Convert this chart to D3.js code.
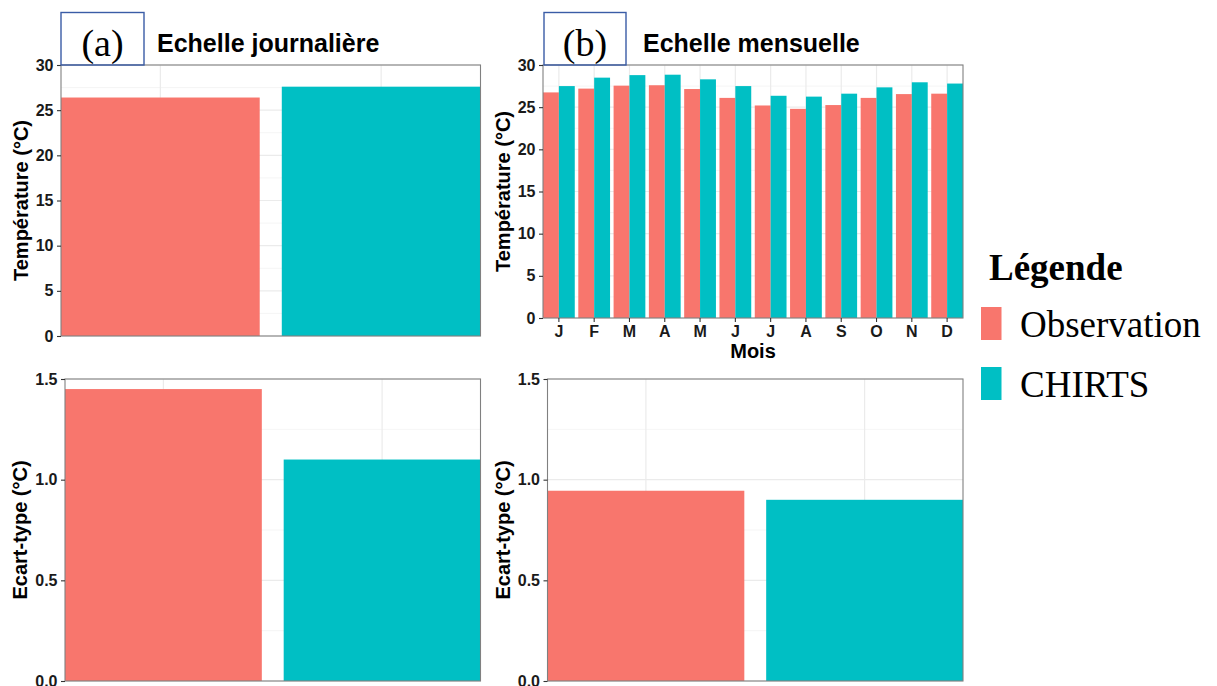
<!DOCTYPE html>
<html>
<head>
<meta charset="utf-8">
<script src="https://cdn.jsdelivr.net/npm/d3@7"></script>
<style>
  html, body { margin: 0; padding: 0; background: #fff; }
  svg { display: block; }
  .tick text { font-family: "Liberation Sans", Arial, sans-serif; font-weight: bold; font-size: 16px; fill: #1a1a1a; }
</style>
</head>
<body>
<svg id="chart" width="1217" height="686"></svg>
<script>
// ---------------- data ----------------
const series = ["Observation", "CHIRTS"];
const colors = ["#F8766D", "#00BFC4"];
const months = ["J", "F", "M", "A", "M", "J", "J", "A", "S", "O", "N", "D"];
const monthKeys = months.map((m, i) => m + i);

const dailyMean = [26.4, 27.6];                // (a) Echelle journalière
const obsMonthly = [26.75, 27.2, 27.55, 27.6, 27.15, 26.1, 25.2, 24.8, 25.25, 26.1, 26.55, 26.6];
const chirtsMonthly = [27.5, 28.5, 28.8, 28.85, 28.3, 27.5, 26.35, 26.25, 26.6, 27.35, 27.95, 27.8];
const dailySD = [1.45, 1.10];
const monthlySD = [0.945, 0.90];

const tempTicks = [0, 5, 10, 15, 20, 25, 30];
const sdTicks = [0, 0.5, 1.0, 1.5];

// ---------------- drawing ----------------
const svg = d3.select("#chart");
const sans = "'Liberation Sans', Arial, sans-serif";
const serif = "'Liberation Serif', 'Times New Roman', serif";

function panel(cfg) {
  const g = svg.append("g");
  const { x0, x1, y0, y1, ymax, ticks, fmt } = cfg;
  const y = d3.scaleLinear().domain([0, ymax]).range([y1, y0]);

  // background grid
  const minor = d3.range(0, ticks.length - 1).map(i => (ticks[i] + ticks[i + 1]) / 2);
  g.selectAll(".minor").data(minor).join("line")
    .attr("x1", x0).attr("x2", x1).attr("y1", d => y(d)).attr("y2", d => y(d))
    .attr("stroke", "#f2f2f2").attr("stroke-width", 0.8);
  g.selectAll(".major").data(ticks).join("line")
    .attr("x1", x0).attr("x2", x1).attr("y1", d => y(d)).attr("y2", d => y(d))
    .attr("stroke", "#ebebeb").attr("stroke-width", 1.2);

  let x;
  if (cfg.grouped) {
    x = d3.scaleBand().domain(monthKeys).range([x0, x1]).paddingInner(0.1).paddingOuter(0);
    const xs = d3.scaleBand().domain(series).range([0, x.bandwidth()]);
    g.selectAll(".vg").data(monthKeys).join("line")
      .attr("x1", d => x(d) + x.bandwidth() / 2).attr("x2", d => x(d) + x.bandwidth() / 2)
      .attr("y1", y0).attr("y2", y1).attr("stroke", "#ebebeb").attr("stroke-width", 1.2);
    const rows = [];
    monthKeys.forEach((k, i) => {
      rows.push({ k, s: series[0], v: cfg.values[0][i], c: colors[0] });
      rows.push({ k, s: series[1], v: cfg.values[1][i], c: colors[1] });
    });
    g.selectAll(".bar").data(rows).join("rect")
      .attr("x", d => x(d.k) + xs(d.s)).attr("width", xs.bandwidth())
      .attr("y", d => y(d.v)).attr("height", d => y(0) - y(d.v))
      .attr("fill", d => d.c);
  } else {
    x = d3.scaleBand().domain(series).range([x0, x1]).paddingInner(0.1).paddingOuter(0);
    g.selectAll(".vg").data(series).join("line")
      .attr("x1", d => x(d) + x.bandwidth() / 2).attr("x2", d => x(d) + x.bandwidth() / 2)
      .attr("y1", y0).attr("y2", y1).attr("stroke", "#ebebeb").attr("stroke-width", 1.2);
    g.selectAll(".bar").data(series).join("rect")
      .attr("x", d => x(d)).attr("width", x.bandwidth())
      .attr("y", (d, i) => y(cfg.values[i])).attr("height", (d, i) => y(0) - y(cfg.values[i]))
      .attr("fill", (d, i) => colors[i]);
  }

  // panel border
  g.append("rect").attr("x", x0).attr("y", y0).attr("width", x1 - x0).attr("height", y1 - y0)
    .attr("fill", "none").attr("stroke", "#808080").attr("stroke-width", 1.1);

  // y axis
  const ya = g.append("g").attr("transform", `translate(${x0},0)`)
    .call(d3.axisLeft(y).tickValues(ticks).tickFormat(fmt).tickSize(4).tickPadding(3.5));
  ya.select(".domain").remove();
  ya.selectAll(".tick line").attr("stroke", "#333").attr("stroke-width", 1.1);

  if (cfg.grouped) {
    const xa = g.append("g").attr("transform", `translate(0,${y1})`)
      .call(d3.axisBottom(x).tickFormat(d => d.replace(/\d+$/, "")).tickSize(4).tickPadding(3));
    xa.select(".domain").remove();
    xa.selectAll(".tick line").attr("stroke", "#333").attr("stroke-width", 1.1);
    xa.selectAll(".tick text").attr("dy", "0.72em");
    g.append("text").attr("x", (x0 + x1) / 2).attr("y", 358).attr("text-anchor", "middle")
      .attr("font-family", sans).attr("font-weight", "bold").attr("font-size", 20).attr("fill", "#000")
      .text(cfg.xlabel);
  }

  // y label
  g.append("text")
    .attr("transform", `translate(${cfg.ylabX},${(y0 + y1) / 2}) rotate(-90)`)
    .attr("text-anchor", "middle")
    .attr("font-family", sans).attr("font-weight", "bold").attr("font-size", 20).attr("fill", "#000")
    .text(cfg.ylabel);

  if (cfg.tag) {
    svg.append("text").attr("x", cfg.titleX).attr("y", 52)
      .attr("font-family", sans).attr("font-weight", "bold").attr("font-size", 25).attr("fill", "#000")
      .text(cfg.title);
    svg.append("rect").attr("x", cfg.tagBox[0]).attr("y", 12.5)
      .attr("width", cfg.tagBox[1] - cfg.tagBox[0]).attr("height", y0 - 12.5)
      .attr("fill", "none").attr("stroke", "#3a5ca6").attr("stroke-width", 1.4);
    svg.append("text").attr("x", (cfg.tagBox[0] + cfg.tagBox[1]) / 2).attr("y", 55.5)
      .attr("text-anchor", "middle")
      .attr("font-family", serif).attr("font-size", 38).attr("fill", "#000")
      .text(cfg.tag);
  }
}

const fmtInt = d3.format("d");
const fmt1 = d3.format(".1f");

panel({ x0: 61, x1: 480.5, y0: 65, y1: 336, ymax: 30, ticks: tempTicks, fmt: fmtInt,
  values: dailyMean, ylabel: "Température (°C)", ylabX: 27.5,
  tag: "(a)", tagBox: [61, 144], title: "Echelle journalière", titleX: 157 });

panel({ x0: 543, x1: 963, y0: 65, y1: 318, ymax: 30, ticks: tempTicks, fmt: fmtInt,
  grouped: true, values: [obsMonthly, chirtsMonthly], xlabel: "Mois",
  ylabel: "Température (°C)", ylabX: 509.5,
  tag: "(b)", tagBox: [544, 626], title: "Echelle mensuelle", titleX: 643 });

panel({ x0: 65, x1: 480.5, y0: 379, y1: 681, ymax: 1.5, ticks: sdTicks, fmt: fmt1,
  values: dailySD, ylabel: "Ecart-type (°C)", ylabX: 27 });

panel({ x0: 547.5, x1: 963, y0: 379, y1: 681, ymax: 1.5, ticks: sdTicks, fmt: fmt1,
  values: monthlySD, ylabel: "Ecart-type (°C)", ylabX: 509.5 });

// legend
const lg = svg.append("g");
lg.append("text").attr("x", 989).attr("y", 280)
  .attr("font-family", serif).attr("font-weight", "bold").attr("font-size", 37).attr("fill", "#000")
  .text("Légende");
series.forEach((s, i) => {
  lg.append("rect").attr("x", 981).attr("y", 307 + i * 60).attr("width", 20.5).attr("height", 33)
    .attr("fill", colors[i]);
  lg.append("text").attr("x", 1020).attr("y", 337 + i * 60)
    .attr("font-family", serif).attr("font-size", 37).attr("fill", "#000")
    .text(s);
});
</script>
</body>
</html>
